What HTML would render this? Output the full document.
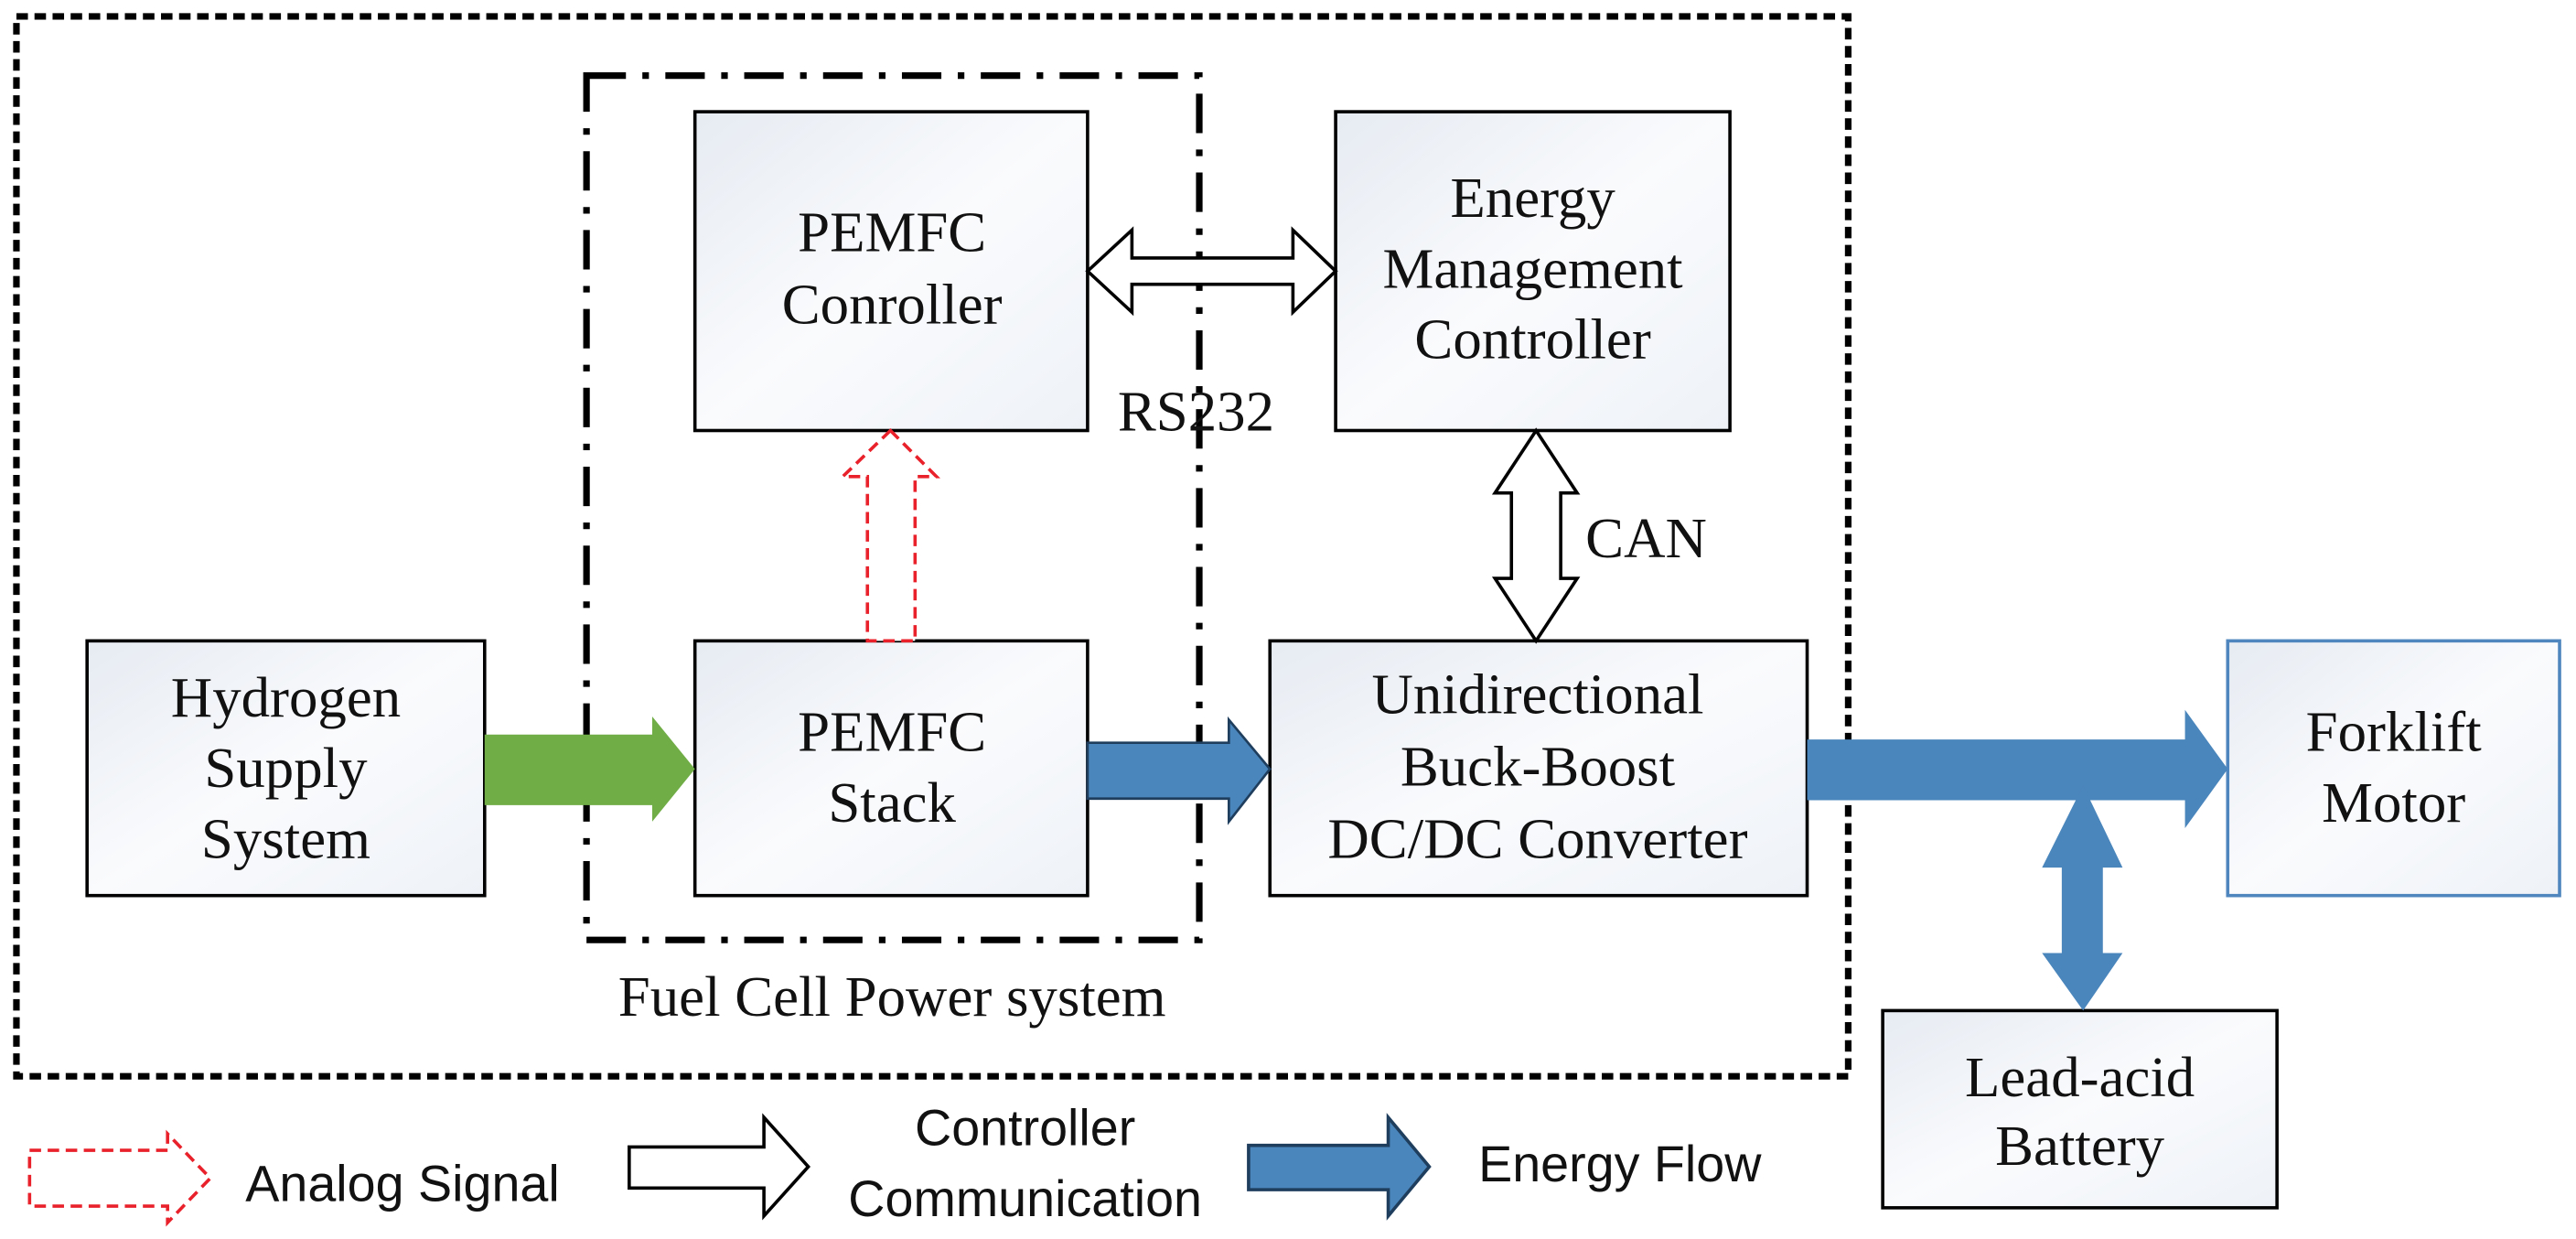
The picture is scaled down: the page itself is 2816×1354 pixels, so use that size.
<!DOCTYPE html>
<html><head><meta charset="utf-8"><style>
html,body{margin:0;padding:0;background:#fff;}
svg{display:block;}
.t{font-family:"Liberation Serif",serif;font-size:35px;fill:#111;text-anchor:middle;}
.s{font-family:"Liberation Sans",sans-serif;font-size:31px;fill:#111;text-anchor:middle;}
</style></head><body>
<svg width="2816" height="1354" viewBox="0 0 1568 754" preserveAspectRatio="none" xmlns="http://www.w3.org/2000/svg">
<defs>
<linearGradient id="g" x1="0" y1="0" x2="1" y2="1">
<stop offset="0" stop-color="#e6ebf2"/><stop offset="0.5" stop-color="#fafbfd"/><stop offset="1" stop-color="#eef2f7"/>
</linearGradient>
</defs>
<rect x="10" y="10" width="1115" height="645" fill="none" stroke="#000" stroke-width="4" stroke-dasharray="7,4"/>
<rect x="357" y="46" width="373" height="526" fill="none" stroke="#000" stroke-width="4" stroke-dasharray="24,10,4,10"/>
<g stroke="#000" stroke-width="2" fill="url(#g)">
<rect x="423" y="68" width="239" height="194"/>
<rect x="813" y="68" width="240" height="194"/>
<rect x="53" y="390" width="242" height="155"/>
<rect x="423" y="390" width="239" height="155"/>
<rect x="773" y="390" width="327" height="155"/>
<rect x="1146" y="615" width="240" height="120"/>
<rect x="1356" y="390" width="202" height="155" stroke="#4f86bd"/>
</g>
<text class="t" x="543" y="153">PEMFC</text><text class="t" x="543" y="197">Conroller</text>
<text class="t" x="933" y="132">Energy</text><text class="t" x="933" y="175">Management</text><text class="t" x="933" y="218">Controller</text>
<text class="t" x="174" y="436">Hydrogen</text><text class="t" x="174" y="479">Supply</text><text class="t" x="174" y="522">System</text>
<text class="t" x="543" y="457">PEMFC</text><text class="t" x="543" y="500">Stack</text>
<text class="t" x="936" y="434">Unidirectional</text><text class="t" x="936" y="478">Buck-Boost</text><text class="t" x="936" y="522">DC/DC Converter</text>
<text class="t" x="1457" y="457">Forklift</text><text class="t" x="1457" y="500">Motor</text>
<text class="t" x="1266" y="667">Lead-acid</text><text class="t" x="1266" y="709">Battery</text>
<text class="t" x="728" y="262">RS232</text>
<text class="t" x="1002" y="339">CAN</text>
<text class="t" x="543" y="618">Fuel Cell Power system</text>
<polygon points="662,165 689,140 689,157 787,157 787,140 813,165 787,190 787,173 689,173 689,190" fill="#fff" stroke="#000" stroke-width="2"/>
<polygon points="935,262 960,300 950,300 950,352 960,352 935,390 910,352 920,352 920,300 910,300" fill="#fff" stroke="#000" stroke-width="2"/>
<polygon points="542,262 570,290 557,290 557,390 528,390 528,290 513,290" fill="#fff" stroke="#e8212a" stroke-width="2" stroke-dasharray="7,4"/>
<polygon points="295,447 397,447 397,436 423,468 397,500 397,490 295,490" fill="#70ad47"/>
<polygon points="662,452 748,452 748,438 773,468 748,500 748,486 662,486" fill="#4a85bb" stroke="#1f3e5e" stroke-width="1.5"/>
<polygon points="1100,450 1330,450 1330,432 1356,468 1330,504 1330,487 1100,487" fill="#4a85bb"/>
<polygon points="1268,478 1292,528 1280,528 1280,580 1292,580 1268,615 1243,580 1255,580 1255,528 1243,528" fill="#4a85bb"/>
<polygon points="18,700 102,700 102,690 128,717 102,744 102,734 18,734" fill="#fff" stroke="#e8212a" stroke-width="2" stroke-dasharray="7,4"/>
<text class="s" x="245" y="731">Analog Signal</text>
<polygon points="383,698 465,698 465,680 492,710 465,740 465,723 383,723" fill="#fff" stroke="#000" stroke-width="2"/>
<text class="s" x="624" y="697">Controller</text><text class="s" x="624" y="740">Communication</text>
<polygon points="760,697 845,697 845,680 870,710 845,740 845,724 760,724" fill="#4a85bb" stroke="#1f3e5e" stroke-width="2"/>
<text class="s" x="986" y="719">Energy Flow</text>
</svg>
</body></html>
